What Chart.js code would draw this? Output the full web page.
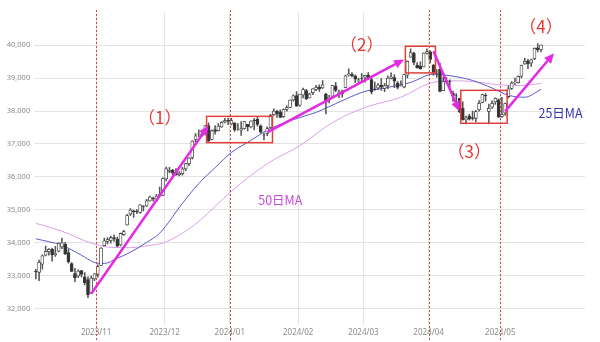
<!DOCTYPE html>
<html>
<head>
<meta charset="utf-8">
<script src="https://cdn.jsdelivr.net/npm/chart.js@4/dist/chart.umd.min.js"></script>
<style>
  body { margin: 0; background: #fff; }
  #wrap { width: 600px; height: 342px; position: relative; }
</style>
</head>
<body>
<div id="wrap"><canvas id="chart-dow"></canvas></div>
<script>
// 取引日 (最後の数日は空白の余白)
const dates = [
  "2023/10/05","2023/10/06","2023/10/09","2023/10/10","2023/10/11","2023/10/12","2023/10/13","2023/10/16","2023/10/17","2023/10/18",
  "2023/10/19","2023/10/20","2023/10/23","2023/10/24","2023/10/25","2023/10/26","2023/10/27","2023/10/30","2023/10/31",
  "2023/11/01","2023/11/02","2023/11/03","2023/11/06","2023/11/07","2023/11/08","2023/11/09","2023/11/10","2023/11/13","2023/11/14",
  "2023/11/15","2023/11/16","2023/11/17","2023/11/20","2023/11/21","2023/11/22","2023/11/24","2023/11/27","2023/11/28","2023/11/29","2023/11/30",
  "2023/12/01","2023/12/04","2023/12/05","2023/12/06","2023/12/07","2023/12/08","2023/12/11","2023/12/12","2023/12/13","2023/12/14",
  "2023/12/15","2023/12/18","2023/12/19","2023/12/20","2023/12/21","2023/12/22","2023/12/26","2023/12/27","2023/12/28","2023/12/29",
  "2024/01/02","2024/01/03","2024/01/04","2024/01/05","2024/01/08","2024/01/09","2024/01/10","2024/01/11","2024/01/12","2024/01/16",
  "2024/01/17","2024/01/18","2024/01/19","2024/01/22","2024/01/23","2024/01/24","2024/01/25","2024/01/26","2024/01/29","2024/01/30","2024/01/31",
  "2024/02/01","2024/02/02","2024/02/05","2024/02/06","2024/02/07","2024/02/08","2024/02/09","2024/02/12","2024/02/13","2024/02/14",
  "2024/02/15","2024/02/16","2024/02/20","2024/02/21","2024/02/22","2024/02/23","2024/02/26","2024/02/27","2024/02/28","2024/02/29",
  "2024/03/01","2024/03/04","2024/03/05","2024/03/06","2024/03/07","2024/03/08","2024/03/11","2024/03/12","2024/03/13","2024/03/14",
  "2024/03/15","2024/03/18","2024/03/19","2024/03/20","2024/03/21","2024/03/22","2024/03/25","2024/03/26","2024/03/27","2024/03/28",
  "2024/04/01","2024/04/02","2024/04/03","2024/04/04","2024/04/05","2024/04/08","2024/04/09","2024/04/10","2024/04/11","2024/04/12",
  "2024/04/15","2024/04/16","2024/04/17","2024/04/18","2024/04/19","2024/04/22","2024/04/23","2024/04/24","2024/04/25","2024/04/26","2024/04/29","2024/04/30",
  "2024/05/01","2024/05/02","2024/05/03","2024/05/06","2024/05/07","2024/05/08","2024/05/09","2024/05/10","2024/05/13","2024/05/14",
  "2024/05/15","2024/05/16","2024/05/17","2024/05/20","2024/05/21","2024/05/22","2024/05/23","2024/05/24","2024/05/28","2024/05/29",
  "2024/05/30","2024/05/31","2024/06/03","2024/06/04","2024/06/05","2024/06/06"
];

// 四本値 (2023/10/05 〜 2024/05/17)
const openVals = [
  33130,33100,33350,33620,33730,33800,33640,33740,33870,33950,33700,33370,33060,32990,33150,32960,32880,32470,32900,
  33040,33310,33910,34040,34060,34160,34110,33930,34240,34540,34870,34970,34960,34920,35100,35120,35270,35350,35280,35460,35440,
  35940,36170,36210,36150,36070,36100,36240,36400,36590,37140,37300,37260,37330,37560,37140,37440,37400,37520,37670,37720,
  37610,37640,37440,37420,37470,37600,37520,37720,37750,37550,37270,37320,37500,37890,38000,37980,37830,38050,38110,38340,38470,
  38180,38490,38620,38400,38560,38660,38730,38700,38520,38330,38450,38770,38540,38530,38720,39100,39120,39070,38920,39000,
  39030,39090,38960,38670,38700,38790,38690,38770,38990,39020,38850,38780,38730,39090,39640,39760,39400,39370,39340,39760,
  39800,39390,39130,39270,38620,38920,38900,38540,38460,38390,38080,37730,37850,37800,37780,38040,38260,38480,37990,38120,38280,38340,
  37830,37940,38440,38690,38860,38860,39060,39430,39530,39460,39600,39920,39870
];
const highVals = [
  33190,33470,33630,33900,33820,33840,33890,34000,34140,34010,33800,33400,33220,33180,33160,33090,32960,32990,33060,
  33330,33850,34140,34160,34200,34240,34170,34290,34380,34860,35040,34990,35010,35160,35130,35320,35420,35390,35470,35690,35970,
  36300,36290,36230,36250,36160,36290,36410,36580,37100,37320,37430,37390,37560,37640,37420,37560,37620,37680,37780,37790,
  37780,37640,37620,37680,37690,37600,37700,37780,37820,37580,37330,37520,37900,38070,38020,38040,38070,38160,38340,38490,38590,
  38520,38700,38660,38550,38680,38780,38800,38930,38540,38480,38780,38870,38640,38640,39090,39280,39170,39090,39000,39140,
  39090,39170,39020,38880,38840,38990,38840,39070,39160,39110,38900,38920,39120,39530,39890,39790,39470,39500,39770,39890,
  39830,39420,39260,39460,39030,39020,38950,38610,38530,38390,38280,37850,37900,38000,38020,38320,38520,38530,38210,38310,38400,38370,
  38420,38240,38770,38900,39000,39070,39400,39600,39570,39580,39920,40050,40010
];
const lowVals = [
  32900,32850,33200,33600,33620,33440,33580,33720,33820,33640,33380,33120,32820,32940,32960,32720,32330,32460,32850,
  32950,33300,33900,33960,33990,34040,33870,33900,34220,34530,34830,34770,34880,34890,34970,35100,35260,35260,35250,35390,35440,
  35880,36120,36060,36050,36030,36050,36190,36340,36550,37050,37220,37230,37320,37080,37120,37300,37400,37500,37640,37590,
  37580,37380,37410,37260,37450,37400,37490,37430,37540,37330,37120,37250,37480,37860,37810,37800,37810,38000,38100,38300,38140,
  38150,38400,38350,38400,38500,38620,38600,38690,37910,38250,38440,38590,38400,38420,38710,39060,39040,38870,38850,38870,
  38880,38960,38520,38630,38650,38630,38590,38680,38980,38710,38670,38760,38700,39010,39640,39410,39300,39270,39340,39730,
  39460,39090,39030,38580,38620,38840,38650,38290,38180,37950,37720,37610,37720,37720,37670,38000,38250,38300,37610,38080,38200,37810,
  37810,37870,38400,38660,38800,38850,39010,39420,39290,39360,39560,39800,39800
];
const closeVals = [
  33120,33407,33604,33739,33804,33631,33670,33984,33997,33665,33414,33127,32936,33141,33036,32784,32418,32929,33053,
  33275,33839,34061,34095,34153,34112,33892,34283,34337,34828,34991,34945,34947,35151,35088,35273,35390,35333,35417,35430,35950,
  36245,36204,36124,36054,36117,36247,36404,36577,37090,37248,37305,37306,37557,37082,37404,37385,37545,37656,37710,37689,
  37715,37430,37440,37466,37683,37525,37695,37711,37592,37361,37266,37468,37863,38001,37905,37806,38049,38109,38333,38467,38150,
  38519,38654,38380,38521,38677,38726,38671,38797,38273,38424,38773,38628,38564,38612,39069,39131,39069,38972,38949,38996,
  39087,38990,38585,38661,38791,38723,38770,39005,39043,38906,38715,38790,39111,39512,39781,39476,39313,39282,39760,39807,
  39567,39170,39127,38596,38904,38892,38883,38461,38459,37983,37735,37798,37753,37775,37986,38240,38504,38461,38086,38240,38386,37816,
  37903,38226,38676,38852,38884,39056,39388,39513,39432,39558,39908,39869,40003
];

// 移動平均線 (読み取り値)
const ma25Days = ["2023/10/05","2023/10/17","2023/10/25","2023/10/31","2023/11/03","2023/11/09","2023/11/15","2023/11/22","2023/11/29",
  "2023/12/08","2023/12/15","2023/12/22","2024/01/02","2024/01/10","2024/01/18","2024/01/30","2024/02/08","2024/02/13","2024/02/22",
  "2024/03/01","2024/03/11","2024/03/15","2024/03/21","2024/04/02","2024/04/10","2024/04/18","2024/04/26","2024/05/03","2024/05/10","2024/05/17"];
const ma25Vals = [34120,33920,33620,33400,33370,33530,33710,34010,34290,
  35200,35800,36280,36740,37110,37420,37740,37960,38090,38360,
  38600,38700,38780,38870,39120,39060,38930,38700,38480,38420,38660];
const ma50Days = ["2023/10/05","2023/10/17","2023/10/30","2023/11/07","2023/11/15","2023/11/24","2023/11/30","2023/12/08","2023/12/15",
  "2024/01/02","2024/01/18","2024/02/01","2024/02/15","2024/03/01","2024/03/18","2024/04/01","2024/04/10","2024/04/18","2024/05/01",
  "2024/05/09","2024/05/17"];
const ma50Vals = [34590,34350,33990,33860,33850,33920,33990,34290,34650,
  35560,36400,36950,37650,38110,38420,38850,38920,38900,38790,
  38780,38840];

const monthLabels = ["2023/11","2023/12","2024/01","2024/02","2024/03","2024/04","2024/05"];
const yTicks = [32000, 33000, 34000, 35000, 36000, 37000, 38000, 39000, 40000];

// 注釈 (日付と値で指定)
const markerDays = ["2023/11/01", "2024/01/02", "2024/04/01", "2024/05/01"];
const boxes = [
  { from: "2023/12/20", to: "2024/01/19", top: 37840, bottom: 37040 },
  { from: "2024/03/20", to: "2024/04/02", top: 39970, bottom: 39160 },
  { from: "2024/04/15", to: "2024/05/02", top: 38630, bottom: 37630 },
];
const arrows = [
  { from: ["2023/10/30", 32450], to: ["2023/12/20", 37560] },
  { from: ["2024/01/18", 37350], to: ["2024/03/19", 39570] },
  { from: ["2024/04/02", 39820], to: ["2024/04/12", 37990] },
  { from: ["2024/05/02", 37990], to: ["2024/05/23", 39760] },
];
const notes = [
  { text: "（1）", day: "2023/11/29", value: 37800, color: "#e53935", size: 17 },
  { text: "（2）", day: "2024/02/29", value: 40010, color: "#e53935", size: 17 },
  { text: "（3）", day: "2024/04/17", value: 36760, color: "#e53935", size: 17 },
  { text: "（4）", day: "2024/05/17", value: 40560, color: "#e53935", size: 17 },
  { text: "50日MA", day: "2024/01/24", value: 35290, color: "#c64fd8", size: 12.5 },
  { text: "25日MA", day: "2024/05/28", value: 37930, color: "#3535b0", size: 12.5 },
];

const monthStart = (i) => {
  const m = dates[i] ? dates[i].slice(0, 7) : null;
  if (!m || !monthLabels.includes(m)) return null;
  return i === 0 || dates[i - 1].slice(0, 7) !== m ? m : null;
};

function drawArrow(ctx, x1, y1, x2, y2) {
  const a = Math.atan2(y2 - y1, x2 - x1);
  const head = 10, half = 4.5;
  const bx = x2 - head * Math.cos(a), by = y2 - head * Math.sin(a);
  ctx.beginPath();
  ctx.moveTo(x1, y1);
  ctx.lineTo(bx, by);
  ctx.stroke();
  ctx.beginPath();
  ctx.moveTo(x2, y2);
  ctx.lineTo(bx + half * Math.sin(a), by - half * Math.cos(a));
  ctx.lineTo(bx - half * Math.sin(a), by + half * Math.cos(a));
  ctx.closePath();
  ctx.fill();
}

const annotations = {
  id: "annotations",
  afterDatasetsDraw(chart) {
    const { ctx, scales: { x, y } } = chart;
    const step = x.getPixelForValue(1) - x.getPixelForValue(0);
    const px = (d) => x.getPixelForValue(dates.indexOf(d));
    ctx.save();

    // 赤い点線
    ctx.strokeStyle = "#d9413c";
    ctx.lineWidth = 1;
    ctx.setLineDash([2, 2]);
    markerDays.forEach((d) => {
      const xx = Math.round(px(d) - step / 2) + 0.5;
      ctx.beginPath();
      ctx.moveTo(xx, 10);
      ctx.lineTo(xx, chart.height);
      ctx.stroke();
    });
    ctx.setLineDash([]);

    // 枠
    ctx.strokeStyle = "#e0403a";
    ctx.lineWidth = 1.5;
    boxes.forEach((b) => {
      const x1 = px(b.from) - 2, x2 = px(b.to) + 2;
      const y1 = y.getPixelForValue(b.top), y2 = y.getPixelForValue(b.bottom);
      ctx.strokeRect(x1, y1, x2 - x1, y2 - y1);
    });

    // 矢印
    ctx.strokeStyle = "#e22be2";
    ctx.fillStyle = "#e22be2";
    ctx.lineWidth = 2.5;
    arrows.forEach((a) => {
      drawArrow(ctx,
        px(a.from[0]), y.getPixelForValue(a.from[1]),
        px(a.to[0]), y.getPixelForValue(a.to[1]));
    });

    // 文字
    ctx.textAlign = "center";
    ctx.textBaseline = "middle";
    notes.forEach((n) => {
      ctx.fillStyle = n.color;
      ctx.font = `${n.size}px "Noto Sans CJK JP"`;
      ctx.fillText(n.text, px(n.day), y.getPixelForValue(n.value));
    });
    ctx.restore();
  },
};

function initDowChart() {
  const canvas = document.getElementById("chart-dow");
  if (!canvas) return;

  const config = {
    type: "bar",
    data: {
      labels: dates,
      datasets: [
        {
          label: "body",
          data: openVals.map((o, i) => [o, closeVals[i]]),
          backgroundColor: openVals.map((o, i) => (closeVals[i] >= o ? "#ffffff" : "#333333")),
          borderColor: "#3a3a3a",
          borderWidth: 0.8,
          borderSkipped: false,
          barThickness: 3,
          grouped: false,
          order: 0,
        },
        {
          label: "wick",
          data: lowVals.map((l, i) => [l, highVals[i]]),
          backgroundColor: "#555555",
          borderWidth: 0,
          barThickness: 0.9,
          grouped: false,
          order: 1,
        },
        {
          type: "line",
          label: "25日MA",
          data: ma25Days.map((d, i) => ({ x: d, y: ma25Vals[i] })),
          borderColor: "#5a5ad0",
          borderWidth: 1,
          pointRadius: 0,
          cubicInterpolationMode: "monotone",
          order: 2,
        },
        {
          type: "line",
          label: "50日MA",
          data: ma50Days.map((d, i) => ({ x: d, y: ma50Vals[i] })),
          borderColor: "#d9a0ea",
          borderWidth: 1,
          pointRadius: 0,
          cubicInterpolationMode: "monotone",
          order: 3,
        },
      ],
    },
    options: {
      responsive: true,
      maintainAspectRatio: false,
      animation: false,
      devicePixelRatio: 1,
      layout: { padding: { top: 13, right: 15, left: 0, bottom: 0 } },
      plugins: {
        legend: { display: false },
        tooltip: { enabled: false },
      },
      scales: {
        x: {
          offset: true,
          afterFit: (s) => { s.height = 17; },
          border: { display: false },
          grid: {
            offset: true,
            drawTicks: false,
            color: (c) => (monthStart(c.index) ? "#e3e3e3" : "rgba(0,0,0,0)"),
          },
          ticks: {
            autoSkip: false,
            maxRotation: 0,
            minRotation: 0,
            padding: 3,
            labelOffset: -1.6,
            color: "#8a8a8a",
            font: { family: "Noto Sans", size: 8 },
            callback: (v, i) => monthStart(i) || "",
          },
        },
        y: {
          min: 31500,
          max: 40980,
          afterFit: (s) => { s.width = 34.2; },
          afterBuildTicks: (s) => { s.ticks = yTicks.map((v) => ({ value: v })); },
          border: { display: false },
          grid: { color: "#e3e3e3", drawTicks: false },
          ticks: {
            padding: 4,
            color: "#8a8a8a",
            font: { family: "Noto Sans", size: 7.5 },
            callback: (v) => v.toLocaleString("en-US"),
          },
        },
      },
    },
    plugins: [annotations],
  };

  canvas.chart = new Chart(canvas, config);
}

document.addEventListener("DOMContentLoaded", initDowChart);
</script>
</body>
</html>
